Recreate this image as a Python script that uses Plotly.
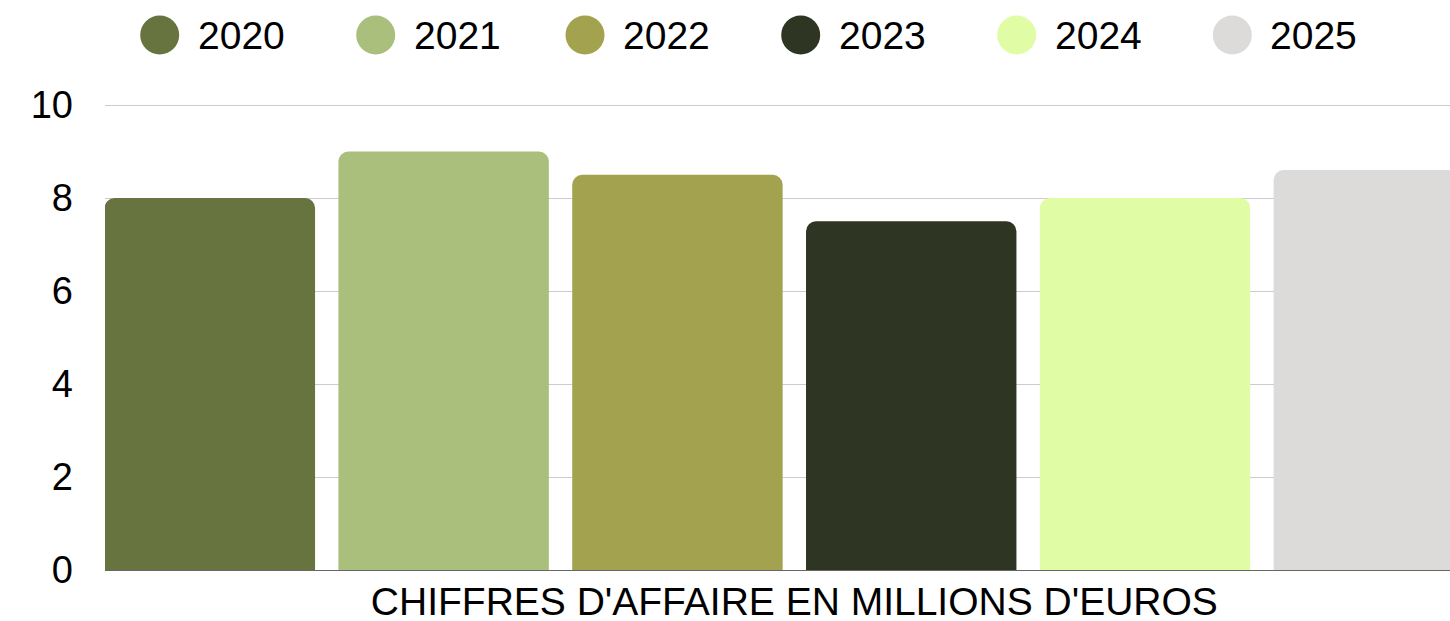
import plotly.graph_objects as go

# ---- data ----
category = ["CHIFFRES D'AFFAIRE EN MILLIONS D'EUROS"]
years = ["2020", "2021", "2022", "2023", "2024", "2025"]
values = [8.0, 9.0, 8.5, 7.5, 8.0, 8.6]
colors = ["#68743F", "#ABBF7D", "#A3A24E", "#2E3522", "#E0FDA6", "#DCDBDA"]
y_ticks = [0, 2, 4, 6, 8, 10]

W, H = 1450, 621
ML, MR, MT, MB = 105, 0, 103, 51
FONT = "Liberation Sans, Arial, sans-serif"
FS = 39

fig = go.Figure()
for yr, v, c in zip(years, values, colors):
    fig.add_trace(go.Bar(
        x=category, y=[v], name=yr, marker=dict(color=c, line=dict(width=0)),
        showlegend=False, hoverinfo="y+name",
    ))

# custom legend (large circles)
legend_circle_px = [159.7, 375.7, 585.0, 800.7, 1016.7, 1232.3]
pw = W - ML - MR
ph = H - MT - MB
ly = (H - MB - 35) / ph
shapes = []
annotations = []
for i, (yr, c) in enumerate(zip(years, colors)):
    cx = (legend_circle_px[i] - ML) / pw
    shapes.append(dict(
        type="circle", xref="paper", yref="paper",
        xsizemode="pixel", ysizemode="pixel",
        xanchor=cx, yanchor=ly, x0=-19.5, x1=19.5, y0=-19.5, y1=19.5,
        fillcolor=c, line=dict(width=0), layer="above",
    ))
    annotations.append(dict(
        text=yr, xref="paper", yref="paper",
        x=(legend_circle_px[i] + 36 - ML) / pw, y=ly,
        xanchor="left", yanchor="middle", showarrow=False,
        font=dict(family=FONT, size=FS, color="#000000"),
    ))

fig.update_layout(
    width=W, height=H,
    margin=dict(l=ML, r=MR, t=MT, b=MB, autoexpand=False),
    paper_bgcolor="#FFFFFF", plot_bgcolor="#FFFFFF",
    barmode="group", bargap=0.0, bargroupgap=0.1, barcornerradius=10,
    showlegend=False,
    font=dict(family=FONT, size=FS, color="#000000"),
    shapes=shapes, annotations=annotations,
    xaxis=dict(
        type="category", range=[-0.4914, 0.4674], automargin=False,
        showgrid=False, zeroline=False, showline=False, ticks="",
        tickfont=dict(family=FONT, size=FS, color="#000000"),
        ticklabelstandoff=5,
    ),
    yaxis=dict(
        range=[0, 10.043], tickvals=y_ticks, ticktext=[str(t) for t in y_ticks],
        automargin=False,
        showgrid=True, gridcolor="#CCCCCC", gridwidth=1,
        zeroline=True, zerolinecolor="#666666", zerolinewidth=1,
        showline=False, ticks="",
        tickfont=dict(family=FONT, size=38, color="#000000"),
        ticklabelstandoff=31,
    ),
)

fig.write_html(
    "out.html",
    config={"displayModeBar": False},
    post_script="document.body.style.margin='0px';document.body.style.overflow='hidden';",
)
